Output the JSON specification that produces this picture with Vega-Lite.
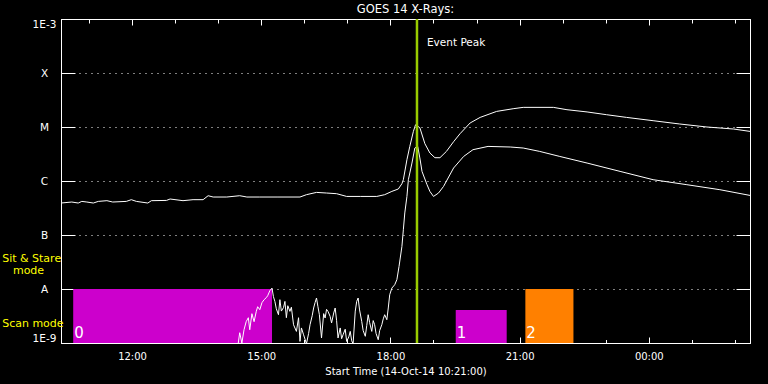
{
  "$schema": "https://vega.github.io/schema/vega-lite/v6.json",
  "width": 689,
  "height": 324,
  "autosize": "none",
  "padding": {"left": 61, "top": 19, "right": 18, "bottom": 41},
  "background": "black",
  "config": {
    "view": {"stroke": "white", "strokeWidth": 1},
    "font": "DejaVu Sans",
    "axis": {
      "domain": true, "domainColor": "white", "domainWidth": 1,
      "labelColor": "white", "tickColor": "white", "titleColor": "white",
      "labelFont": "DejaVu Sans", "titleFont": "DejaVu Sans",
      "titleFontWeight": "normal", "labelFontSize": 10, "titleFontSize": 10,
      "tickWidth": 1
    }
  },
  "title": {"text": "GOES 14 X-Rays:", "color": "white", "fontSize": 11.5, "fontWeight": "normal", "font": "DejaVu Sans", "offset": 2, "anchor": "middle"},
  "datasets": {
    "bars": [
      {"start": "2014-10-14T10:38:00Z", "end": "2014-10-14T15:15:00Z", "lo": 1e-9, "hi": 1e-8, "mode": "0"},
      {"start": "2014-10-14T19:31:00Z", "end": "2014-10-14T20:42:00Z", "lo": 1e-9, "hi": 4.08e-9, "mode": "1"},
      {"start": "2014-10-14T21:08:00Z", "end": "2014-10-14T22:15:00Z", "lo": 1e-9, "hi": 1e-8, "mode": "2"}
    ],
    "xrs": [
      {"t": "2014-10-14T10:21:00Z", "f": 3.91e-7, "ch": "long"},
      {"t": "2014-10-14T10:36:00Z", "f": 4.08e-7, "ch": "long"},
      {"t": "2014-10-14T10:45:00Z", "f": 3.91e-7, "ch": "long"},
      {"t": "2014-10-14T10:50:00Z", "f": 4.19e-7, "ch": "long"},
      {"t": "2014-10-14T10:57:00Z", "f": 4.08e-7, "ch": "long"},
      {"t": "2014-10-14T11:06:00Z", "f": 3.91e-7, "ch": "long"},
      {"t": "2014-10-14T11:13:00Z", "f": 4.19e-7, "ch": "long"},
      {"t": "2014-10-14T11:25:00Z", "f": 4.32e-7, "ch": "long"},
      {"t": "2014-10-14T11:33:00Z", "f": 4.08e-7, "ch": "long"},
      {"t": "2014-10-14T11:52:00Z", "f": 4.19e-7, "ch": "long"},
      {"t": "2014-10-14T11:59:00Z", "f": 4.51e-7, "ch": "long"},
      {"t": "2014-10-14T12:06:00Z", "f": 4.19e-7, "ch": "long"},
      {"t": "2014-10-14T12:22:00Z", "f": 3.91e-7, "ch": "long"},
      {"t": "2014-10-14T12:27:00Z", "f": 4.32e-7, "ch": "long"},
      {"t": "2014-10-14T12:48:00Z", "f": 4.37e-7, "ch": "long"},
      {"t": "2014-10-14T12:53:00Z", "f": 4.64e-7, "ch": "long"},
      {"t": "2014-10-14T13:11:00Z", "f": 4.32e-7, "ch": "long"},
      {"t": "2014-10-14T13:25:00Z", "f": 4.51e-7, "ch": "long"},
      {"t": "2014-10-14T13:39:00Z", "f": 4.51e-7, "ch": "long"},
      {"t": "2014-10-14T13:46:00Z", "f": 5.34e-7, "ch": "long"},
      {"t": "2014-10-14T13:53:00Z", "f": 5.05e-7, "ch": "long"},
      {"t": "2014-10-14T14:12:00Z", "f": 5.05e-7, "ch": "long"},
      {"t": "2014-10-14T14:30:00Z", "f": 5.34e-7, "ch": "long"},
      {"t": "2014-10-14T14:40:00Z", "f": 5.05e-7, "ch": "long"},
      {"t": "2014-10-14T14:58:00Z", "f": 5.05e-7, "ch": "long"},
      {"t": "2014-10-14T15:22:00Z", "f": 5.05e-7, "ch": "long"},
      {"t": "2014-10-14T15:54:00Z", "f": 5.05e-7, "ch": "long"},
      {"t": "2014-10-14T16:03:00Z", "f": 5.58e-7, "ch": "long"},
      {"t": "2014-10-14T16:17:00Z", "f": 6.15e-7, "ch": "long"},
      {"t": "2014-10-14T16:31:00Z", "f": 5.99e-7, "ch": "long"},
      {"t": "2014-10-14T16:45:00Z", "f": 5.82e-7, "ch": "long"},
      {"t": "2014-10-14T16:59:00Z", "f": 5.18e-7, "ch": "long"},
      {"t": "2014-10-14T17:18:00Z", "f": 5.18e-7, "ch": "long"},
      {"t": "2014-10-14T17:41:00Z", "f": 5.18e-7, "ch": "long"},
      {"t": "2014-10-14T17:52:00Z", "f": 5.58e-7, "ch": "long"},
      {"t": "2014-10-14T18:02:00Z", "f": 6.42e-7, "ch": "long"},
      {"t": "2014-10-14T18:11:00Z", "f": 7.11e-7, "ch": "long"},
      {"t": "2014-10-14T18:16:00Z", "f": 8.91e-7, "ch": "long"},
      {"t": "2014-10-14T18:18:00Z", "f": 1.057e-6, "ch": "long"},
      {"t": "2014-10-14T18:23:00Z", "f": 2.48e-6, "ch": "long"},
      {"t": "2014-10-14T18:27:00Z", "f": 4.37e-6, "ch": "long"},
      {"t": "2014-10-14T18:32:00Z", "f": 8.29e-6, "ch": "long"},
      {"t": "2014-10-14T18:35:00Z", "f": 1.10e-5, "ch": "long"},
      {"t": "2014-10-14T18:41:00Z", "f": 9.70e-6, "ch": "long"},
      {"t": "2014-10-14T18:48:00Z", "f": 4.91e-6, "ch": "long"},
      {"t": "2014-10-14T18:55:00Z", "f": 3.30e-6, "ch": "long"},
      {"t": "2014-10-14T19:02:00Z", "f": 2.70e-6, "ch": "long"},
      {"t": "2014-10-14T19:09:00Z", "f": 2.70e-6, "ch": "long"},
      {"t": "2014-10-14T19:18:00Z", "f": 3.53e-6, "ch": "long"},
      {"t": "2014-10-14T19:28:00Z", "f": 5.34e-6, "ch": "long"},
      {"t": "2014-10-14T19:37:00Z", "f": 7.51e-6, "ch": "long"},
      {"t": "2014-10-14T19:51:00Z", "f": 1.186e-5, "ch": "long"},
      {"t": "2014-10-14T20:05:00Z", "f": 1.506e-5, "ch": "long"},
      {"t": "2014-10-14T20:28:00Z", "f": 1.945e-5, "ch": "long"},
      {"t": "2014-10-14T20:51:00Z", "f": 2.18e-5, "ch": "long"},
      {"t": "2014-10-14T21:05:00Z", "f": 2.31e-5, "ch": "long"},
      {"t": "2014-10-14T21:47:00Z", "f": 2.31e-5, "ch": "long"},
      {"t": "2014-10-14T22:06:00Z", "f": 2.09e-5, "ch": "long"},
      {"t": "2014-10-14T22:34:00Z", "f": 1.90e-5, "ch": "long"},
      {"t": "2014-10-14T23:01:00Z", "f": 1.69e-5, "ch": "long"},
      {"t": "2014-10-14T23:29:00Z", "f": 1.506e-5, "ch": "long"},
      {"t": "2014-10-15T00:06:00Z", "f": 1.308e-5, "ch": "long"},
      {"t": "2014-10-15T00:43:00Z", "f": 1.137e-5, "ch": "long"},
      {"t": "2014-10-15T01:21:00Z", "f": 1.0e-5, "ch": "long"},
      {"t": "2014-10-15T01:58:00Z", "f": 9.18e-6, "ch": "long"},
      {"t": "2014-10-15T02:21:00Z", "f": 8.29e-6, "ch": "long"},
      {"t": "2014-10-14T14:25:00Z", "f": 9.3e-10, "ch": "short"},
      {"t": "2014-10-14T14:28:00Z", "f": 1.0e-9, "ch": "short"},
      {"t": "2014-10-14T14:30:00Z", "f": 1.55e-9, "ch": "short"},
      {"t": "2014-10-14T14:33:00Z", "f": 1.0e-9, "ch": "short"},
      {"t": "2014-10-14T14:36:00Z", "f": 1.76e-9, "ch": "short"},
      {"t": "2014-10-14T14:39:00Z", "f": 2.48e-9, "ch": "short"},
      {"t": "2014-10-14T14:42:00Z", "f": 2.94e-9, "ch": "short"},
      {"t": "2014-10-14T14:44:00Z", "f": 1.76e-9, "ch": "short"},
      {"t": "2014-10-14T14:47:00Z", "f": 3.49e-9, "ch": "short"},
      {"t": "2014-10-14T14:50:00Z", "f": 2.48e-9, "ch": "short"},
      {"t": "2014-10-14T14:53:00Z", "f": 3.80e-9, "ch": "short"},
      {"t": "2014-10-14T14:55:00Z", "f": 4.70e-9, "ch": "short"},
      {"t": "2014-10-14T14:58:00Z", "f": 4.14e-9, "ch": "short"},
      {"t": "2014-10-14T15:01:00Z", "f": 5.58e-9, "ch": "short"},
      {"t": "2014-10-14T15:04:00Z", "f": 6.34e-9, "ch": "short"},
      {"t": "2014-10-14T15:07:00Z", "f": 6.90e-9, "ch": "short"},
      {"t": "2014-10-14T15:09:00Z", "f": 7.51e-9, "ch": "short"},
      {"t": "2014-10-14T15:12:00Z", "f": 9.30e-9, "ch": "short"},
      {"t": "2014-10-14T15:15:00Z", "f": 1.04e-8, "ch": "short"},
      {"t": "2014-10-14T15:17:00Z", "f": 7.2e-9, "ch": "short"},
      {"t": "2014-10-14T15:19:00Z", "f": 5.89e-9, "ch": "short"},
      {"t": "2014-10-14T15:21:00Z", "f": 4.3e-9, "ch": "short"},
      {"t": "2014-10-14T15:24:00Z", "f": 3.34e-9, "ch": "short"},
      {"t": "2014-10-14T15:26:00Z", "f": 6.34e-9, "ch": "short"},
      {"t": "2014-10-14T15:28:00Z", "f": 3.9e-9, "ch": "short"},
      {"t": "2014-10-14T15:31:00Z", "f": 4.51e-9, "ch": "short"},
      {"t": "2014-10-14T15:33:00Z", "f": 5.89e-9, "ch": "short"},
      {"t": "2014-10-14T15:35:00Z", "f": 2.94e-9, "ch": "short"},
      {"t": "2014-10-14T15:37:00Z", "f": 4.9e-9, "ch": "short"},
      {"t": "2014-10-14T15:40:00Z", "f": 3.85e-9, "ch": "short"},
      {"t": "2014-10-14T15:42:00Z", "f": 4.6e-9, "ch": "short"},
      {"t": "2014-10-14T15:45:00Z", "f": 2.18e-9, "ch": "short"},
      {"t": "2014-10-14T15:49:00Z", "f": 1.64e-9, "ch": "short"},
      {"t": "2014-10-14T15:52:00Z", "f": 2.94e-9, "ch": "short"},
      {"t": "2014-10-14T15:54:00Z", "f": 1.07e-9, "ch": "short"},
      {"t": "2014-10-14T15:56:00Z", "f": 1.9e-9, "ch": "short"},
      {"t": "2014-10-14T15:59:00Z", "f": 1.42e-9, "ch": "short"},
      {"t": "2014-10-14T16:03:00Z", "f": 9.7e-10, "ch": "short"},
      {"t": "2014-10-14T16:06:00Z", "f": 1.5e-9, "ch": "short"},
      {"t": "2014-10-14T16:08:00Z", "f": 2.18e-9, "ch": "short"},
      {"t": "2014-10-14T16:11:00Z", "f": 3.2e-9, "ch": "short"},
      {"t": "2014-10-14T16:13:00Z", "f": 4.45e-9, "ch": "short"},
      {"t": "2014-10-14T16:15:00Z", "f": 5.6e-9, "ch": "short"},
      {"t": "2014-10-14T16:17:00Z", "f": 6.81e-9, "ch": "short"},
      {"t": "2014-10-14T16:19:00Z", "f": 4.7e-9, "ch": "short"},
      {"t": "2014-10-14T16:21:00Z", "f": 3.34e-9, "ch": "short"},
      {"t": "2014-10-14T16:24:00Z", "f": 1.24e-9, "ch": "short"},
      {"t": "2014-10-14T16:27:00Z", "f": 3.5e-9, "ch": "short"},
      {"t": "2014-10-14T16:29:00Z", "f": 2.90e-9, "ch": "short"},
      {"t": "2014-10-14T16:31:00Z", "f": 4.2e-9, "ch": "short"},
      {"t": "2014-10-14T16:33:00Z", "f": 3.85e-9, "ch": "short"},
      {"t": "2014-10-14T16:36:00Z", "f": 3.1e-9, "ch": "short"},
      {"t": "2014-10-14T16:38:00Z", "f": 2.35e-9, "ch": "short"},
      {"t": "2014-10-14T16:41:00Z", "f": 3.6e-9, "ch": "short"},
      {"t": "2014-10-14T16:43:00Z", "f": 4.45e-9, "ch": "short"},
      {"t": "2014-10-14T16:45:00Z", "f": 2.6e-9, "ch": "short"},
      {"t": "2014-10-14T16:47:00Z", "f": 1.24e-9, "ch": "short"},
      {"t": "2014-10-14T16:50:00Z", "f": 1.9e-9, "ch": "short"},
      {"t": "2014-10-14T16:52:00Z", "f": 1.2e-9, "ch": "short"},
      {"t": "2014-10-14T16:54:00Z", "f": 1.42e-9, "ch": "short"},
      {"t": "2014-10-14T16:57:00Z", "f": 1.8e-9, "ch": "short"},
      {"t": "2014-10-14T16:59:00Z", "f": 1.07e-9, "ch": "short"},
      {"t": "2014-10-14T17:02:00Z", "f": 1.3e-9, "ch": "short"},
      {"t": "2014-10-14T17:04:00Z", "f": 1.64e-9, "ch": "short"},
      {"t": "2014-10-14T17:06:00Z", "f": 1.1e-9, "ch": "short"},
      {"t": "2014-10-14T17:08:00Z", "f": 9.7e-10, "ch": "short"},
      {"t": "2014-10-14T17:11:00Z", "f": 3.9e-9, "ch": "short"},
      {"t": "2014-10-14T17:13:00Z", "f": 5.89e-9, "ch": "short"},
      {"t": "2014-10-14T17:15:00Z", "f": 6.81e-9, "ch": "short"},
      {"t": "2014-10-14T17:17:00Z", "f": 4.1e-9, "ch": "short"},
      {"t": "2014-10-14T17:20:00Z", "f": 2.51e-9, "ch": "short"},
      {"t": "2014-10-14T17:22:00Z", "f": 1.7e-9, "ch": "short"},
      {"t": "2014-10-14T17:25:00Z", "f": 1.33e-9, "ch": "short"},
      {"t": "2014-10-14T17:27:00Z", "f": 2.1e-9, "ch": "short"},
      {"t": "2014-10-14T17:29:00Z", "f": 3.34e-9, "ch": "short"},
      {"t": "2014-10-14T17:31:00Z", "f": 2.4e-9, "ch": "short"},
      {"t": "2014-10-14T17:34:00Z", "f": 1.64e-9, "ch": "short"},
      {"t": "2014-10-14T17:36:00Z", "f": 2.6e-9, "ch": "short"},
      {"t": "2014-10-14T17:38:00Z", "f": 2.18e-9, "ch": "short"},
      {"t": "2014-10-14T17:40:00Z", "f": 1.5e-9, "ch": "short"},
      {"t": "2014-10-14T17:43:00Z", "f": 1.15e-9, "ch": "short"},
      {"t": "2014-10-14T17:45:00Z", "f": 1.7e-9, "ch": "short"},
      {"t": "2014-10-14T17:48:00Z", "f": 2.18e-9, "ch": "short"},
      {"t": "2014-10-14T17:50:00Z", "f": 2.8e-9, "ch": "short"},
      {"t": "2014-10-14T17:52:00Z", "f": 3.34e-9, "ch": "short"},
      {"t": "2014-10-14T17:55:00Z", "f": 2.7e-9, "ch": "short"},
      {"t": "2014-10-14T17:57:00Z", "f": 4.45e-9, "ch": "short"},
      {"t": "2014-10-14T17:59:00Z", "f": 7.84e-9, "ch": "short"},
      {"t": "2014-10-14T18:02:00Z", "f": 1.04e-8, "ch": "short"},
      {"t": "2014-10-14T18:06:00Z", "f": 1.20e-8, "ch": "short"},
      {"t": "2014-10-14T18:09:00Z", "f": 1.49e-8, "ch": "short"},
      {"t": "2014-10-14T18:12:00Z", "f": 2.62e-8, "ch": "short"},
      {"t": "2014-10-14T18:16:00Z", "f": 6.15e-8, "ch": "short"},
      {"t": "2014-10-14T18:18:00Z", "f": 1.25e-7, "ch": "short"},
      {"t": "2014-10-14T18:20:00Z", "f": 2.56e-7, "ch": "short"},
      {"t": "2014-10-14T18:23:00Z", "f": 5.18e-7, "ch": "short"},
      {"t": "2014-10-14T18:25:00Z", "f": 1.057e-6, "ch": "short"},
      {"t": "2014-10-14T18:30:00Z", "f": 2.15e-6, "ch": "short"},
      {"t": "2014-10-14T18:34:00Z", "f": 4.08e-6, "ch": "short"},
      {"t": "2014-10-14T18:38:00Z", "f": 4.37e-6, "ch": "short"},
      {"t": "2014-10-14T18:41:00Z", "f": 2.67e-6, "ch": "short"},
      {"t": "2014-10-14T18:44:00Z", "f": 1.506e-6, "ch": "short"},
      {"t": "2014-10-14T18:51:00Z", "f": 8.54e-7, "ch": "short"},
      {"t": "2014-10-14T18:55:00Z", "f": 6.42e-7, "ch": "short"},
      {"t": "2014-10-14T19:00:00Z", "f": 5.18e-7, "ch": "short"},
      {"t": "2014-10-14T19:07:00Z", "f": 5.99e-7, "ch": "short"},
      {"t": "2014-10-14T19:14:00Z", "f": 7.94e-7, "ch": "short"},
      {"t": "2014-10-14T19:28:00Z", "f": 1.74e-6, "ch": "short"},
      {"t": "2014-10-14T19:42:00Z", "f": 2.85e-6, "ch": "short"},
      {"t": "2014-10-14T19:55:00Z", "f": 3.80e-6, "ch": "short"},
      {"t": "2014-10-14T20:16:00Z", "f": 4.37e-6, "ch": "short"},
      {"t": "2014-10-14T20:47:00Z", "f": 4.26e-6, "ch": "short"},
      {"t": "2014-10-14T21:05:00Z", "f": 4.08e-6, "ch": "short"},
      {"t": "2014-10-14T21:28:00Z", "f": 3.53e-6, "ch": "short"},
      {"t": "2014-10-14T21:56:00Z", "f": 2.85e-6, "ch": "short"},
      {"t": "2014-10-14T22:34:00Z", "f": 2.15e-6, "ch": "short"},
      {"t": "2014-10-14T23:20:00Z", "f": 1.506e-6, "ch": "short"},
      {"t": "2014-10-15T00:06:00Z", "f": 1.057e-6, "ch": "short"},
      {"t": "2014-10-15T00:53:00Z", "f": 8.54e-7, "ch": "short"},
      {"t": "2014-10-15T01:39:00Z", "f": 6.90e-7, "ch": "short"},
      {"t": "2014-10-15T02:21:00Z", "f": 5.41e-7, "ch": "short"}
    ],
    "peak": [{"t": "2014-10-14T18:37:00Z", "f": 3.6e-4, "label": "Event Peak"}],
    "modes": [
      {"t": "2014-10-14T08:59:00Z", "f": 3.6e-8, "text": "Sit & Stare"},
      {"t": "2014-10-14T09:14:00Z", "f": 2.15e-8, "text": "mode"},
      {"t": "2014-10-14T08:59:00Z", "f": 2.28e-9, "text": "Scan mode"}
    ]
  },
  "layer": [
    {
      "data": {"name": "bars"},
      "mark": {"type": "rect"},
      "encoding": {
        "x": {
          "field": "start", "type": "temporal",
          "scale": {"type": "utc", "nice": false, "domain": [1413282060000, 1413339660000]},
          "axis": {
            "orient": "bottom",
            "values": [1413284400000, 1413288000000, 1413291600000, 1413295200000, 1413298800000, 1413302400000, 1413306000000, 1413309600000, 1413313200000, 1413316800000, 1413320400000, 1413324000000, 1413327600000, 1413331200000, 1413334800000, 1413338400000],
            "labelExpr": "utchours(datum.value) % 3 == 0 ? utcFormat(datum.value, '%H:%M') : ''",
            "labelOverlap": false, "labelFlush": false,
            "grid": false,
            "tickSize": {"condition": {"test": "utchours(datum.value) % 3 == 0", "value": -6}, "value": -3.5},
            "labelPadding": 14,
            "title": "Start Time (14-Oct-14 10:21:00)",
            "titlePadding": 3
          }
        },
        "x2": {"field": "end"},
        "y": {
          "field": "lo", "type": "quantitative",
          "scale": {"type": "log", "domain": [1e-9, 1e-3], "nice": false},
          "axis": {
            "orient": "left",
            "values": [1e-9, 1e-8, 1e-7, 1e-6, 1e-5, 1e-4, 1e-3],
            "labelExpr": "datum.value < 3e-9 ? '1E-9' : datum.value < 3e-8 ? 'A' : datum.value < 3e-7 ? 'B' : datum.value < 3e-6 ? 'C' : datum.value < 3e-5 ? 'M' : datum.value < 3e-4 ? 'X' : '1E-3'",
            "title": null,
            "tickSize": -14,
            "labelPadding": 31,
            "labelAlign": "center",
            "labelFlush": true,
            "labelFontSize": 10.5,
            "grid": true, "gridColor": "white", "gridDash": [1, 5], "gridWidth": 1
          }
        },
        "y2": {"field": "hi"},
        "color": {"field": "mode", "type": "nominal", "scale": {"domain": ["0", "1", "2"], "range": ["#cc00cc", "#cc00cc", "#ff8000"]}, "legend": null}
      }
    },
    {
      "data": {"name": "bars"},
      "mark": {"type": "text", "align": "left", "baseline": "alphabetic", "dx": 1, "dy": -5, "fontSize": 15, "color": "white", "font": "DejaVu Sans"},
      "encoding": {
        "x": {"field": "start", "type": "temporal", "axis": null},
        "y": {"field": "lo", "type": "quantitative", "axis": null},
        "text": {"field": "mode"}
      }
    },
    {
      "data": {"name": "xrs"},
      "mark": {"type": "line", "color": "white", "strokeWidth": 1, "clip": true},
      "encoding": {
        "x": {
          "field": "t", "type": "temporal",
          "axis": {
            "orient": "top", "labels": false, "title": null, "grid": false,
            "values": [1413284400000, 1413288000000, 1413291600000, 1413295200000, 1413298800000, 1413302400000, 1413306000000, 1413309600000, 1413313200000, 1413316800000, 1413320400000, 1413324000000, 1413327600000, 1413331200000, 1413334800000, 1413338400000],
            "tickSize": {"condition": {"test": "utchours(datum.value) % 3 == 0", "value": -6}, "value": -4}
          }
        },
        "y": {
          "field": "f", "type": "quantitative",
          "axis": {
            "orient": "right", "labels": false, "title": null, "grid": false,
            "values": [1e-9, 1e-8, 1e-7, 1e-6, 1e-5, 1e-4, 1e-3],
            "tickSize": -14
          }
        },
        "detail": {"field": "ch"}
      }
    },
    {
      "data": {"name": "peak"},
      "mark": {"type": "rule", "color": "#99cc00", "strokeWidth": 2.5},
      "encoding": {
        "x": {"field": "t", "type": "temporal", "axis": null}
      }
    },
    {
      "data": {"name": "peak"},
      "mark": {"type": "text", "align": "left", "baseline": "middle", "dx": 10, "fontSize": 10.5, "color": "white", "font": "DejaVu Sans"},
      "encoding": {
        "x": {"field": "t", "type": "temporal", "axis": null},
        "y": {"field": "f", "type": "quantitative", "axis": null},
        "text": {"field": "label"}
      }
    },
    {
      "data": {"name": "modes"},
      "mark": {"type": "text", "align": "left", "baseline": "middle", "fontSize": 11, "color": "#ffff00", "font": "DejaVu Sans"},
      "encoding": {
        "x": {"field": "t", "type": "temporal", "axis": null},
        "y": {"field": "f", "type": "quantitative", "axis": null},
        "text": {"field": "text"}
      }
    }
  ],
  "resolve": {"axis": {"x": "independent", "y": "independent"}}
}
